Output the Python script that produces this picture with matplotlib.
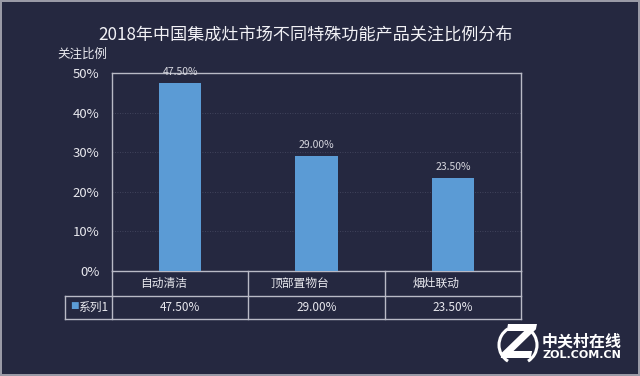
import matplotlib
matplotlib.use("Agg")
import matplotlib.pyplot as plt
from matplotlib.lines import Line2D
from matplotlib.patches import Arc

plt.rcParams['font.family'] = ['Noto Sans CJK SC', 'DejaVu Sans']

title = "2018年中国集成灶市场不同特殊功能产品关注比例分布"
categories = ["自动清洁", "顶部置物台", "烟灶联动"]
values = [47.50, 29.00, 23.50]
series_name = "系列1"
yticks = [0, 10, 20, 30, 40, 50]

bg = "#252840"
bar_color = "#5b9bd5"
line_color = "#b9bac6"
text_color = "#e8e8ee"

fig = plt.figure(figsize=(6.4, 3.76), dpi=100, facecolor=bg,
                 edgecolor="#9a9aa6", linewidth=1.5)
ax = fig.add_axes([112 / 640, 1 - 271 / 376, 409 / 640, 198 / 376])
ax.set_facecolor(bg)

x = range(len(categories))
ax.bar(x, values, width=0.31, color=bar_color, zorder=3)
for xi, v in zip(x, values):
    ax.text(xi, v + 1.6, f"{v:.2f}%", ha="center", va="bottom",
            fontsize=7.5, color="#d6d6de", zorder=4)

ax.set_xlim(-0.5, len(categories) - 0.5)
ax.set_ylim(0, 50)
ax.set_yticks(yticks)
ax.set_yticklabels([f"{t}%" for t in yticks], fontsize=9.5, color=text_color)
ax.tick_params(axis="y", length=0, pad=9)
ax.set_xticks([])
for t in yticks[1:-1]:
    ax.axhline(t, color="#4a4d66", linewidth=0.6, linestyle=(0, (1, 2)), zorder=1)
for s in ax.spines.values():
    s.set_color(line_color)
    s.set_linewidth(1.0)

# y-axis title
fig.text(82 / 640, 1 - 54 / 376, "关注比例", fontsize=9, color=text_color,
         ha="center", va="center")

# data table under the axes
n = len(categories)
r1 = -25 / 198   # bottom of category row
r2 = -48 / 198   # bottom of series row
left = -47 / 409
tr = ax.transAxes
lw = 1.0
def seg(x0, y0, x1, y1):
    ax.add_line(Line2D([x0, x1], [y0, y1], transform=tr, color=line_color,
                       linewidth=lw, clip_on=False))
seg(0, r1, 1, r1)
seg(left, r1, 0, r1)
seg(left, r2, 1, r2)
seg(left, r1, left, r2)
for i in range(n + 1):
    seg(i / n, 0, i / n, r2)
for i, (c, v) in enumerate(zip(categories, values)):
    xc = (i + 0.5) / n
    ax.text(xc - 0.04, r1 / 2, c, transform=tr, ha="center", va="center",
            fontsize=8.5, color=text_color)
    ax.text(xc, (r1 + r2) / 2, f"{v:.2f}%", transform=tr, ha="center",
            va="center", fontsize=8.5, color=text_color)
ax.text(left + 0.012, (r1 + r2) / 2 + 0.01, "\u25a0", transform=tr, ha="left",
        va="center", fontsize=6.5, color=bar_color, family="DejaVu Sans")
ax.text(left + 0.032, (r1 + r2) / 2, series_name, transform=tr, ha="left",
        va="center", fontsize=8.5, color=text_color)

fig.text(306 / 640, 1 - 36 / 376, title, ha="center", va="center",
         fontsize=12.3, color="#f2f2f6")

# watermark
fig.text(518 / 640, 1 - 345 / 376, "Z", ha="center", va="center",
         fontsize=34, fontweight="bold", fontstyle="italic", color="white",
         family="DejaVu Sans")
for t1, t2 in [(110, 250), (-70, 70)]:
    fig.add_artist(Arc((518 / 640, 1 - 345 / 376), 38 / 640, 38 / 376,
                       theta1=t1, theta2=t2, color="white", linewidth=2.2,
                       transform=fig.transFigure))
fig.text(582 / 640, 1 - 341 / 376, "中关村在线", ha="center", va="center",
         fontsize=11.5, fontweight="bold", color="white")
fig.text(582 / 640, 1 - 355.5 / 376, "ZOL.COM.CN", ha="center", va="center",
         fontsize=8, fontweight="bold", color="white", family="DejaVu Sans")

fig.savefig("out.png", dpi=100, facecolor=bg, edgecolor="#9a9aa6")
